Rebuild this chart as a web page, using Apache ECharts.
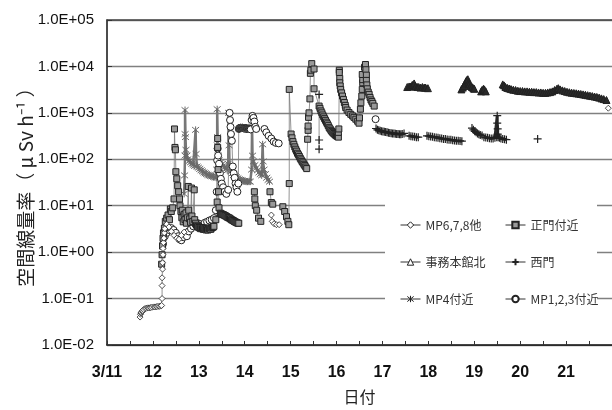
<!DOCTYPE html>
<html>
<head>
<meta charset="utf-8">
<script src="https://cdn.jsdelivr.net/npm/echarts@6/dist/echarts.min.js"></script>
<style>
  html, body { margin: 0; padding: 0; background: #fff; }
  #chart { width: 612px; height: 410px; }
</style>
</head>
<body>
<div id="chart"></div>
<script>
// x = day of March (fractional), y = uSv/h
const xTickLabels = ['3/11', '12', '13', '14', '15', '16', '17', '18', '19', '20', '21']
const yTickLabels = ['1.0E-02', '1.0E-01', '1.0E+00', '1.0E+01', '1.0E+02', '1.0E+03', '1.0E+04', '1.0E+05']
const seriesNames = ['MP6,7,8他', '正門付近', '事務本館北', '西門', 'MP4付近', 'MP1,2,3付近']

const mp678 = [
  [11.72, 0.040], [11.73, 0.046], [11.74, 0.049], [11.75, 0.051], [11.77, 0.053], [11.78, 0.055], [11.80, 0.058],
  [11.83, 0.061], [11.86, 0.062], [11.89, 0.063], [11.92, 0.063], [11.95, 0.064], [11.98, 0.065],
  [12.02, 0.066], [12.05, 0.066], [12.08, 0.067], [12.11, 0.068], [12.14, 0.068], [12.17, 0.069], [12.19, 0.071],
  [12.20, 0.10], [12.20, 0.19], [12.20, 0.28],
  [12.21, 0.43], [12.21, 0.59], [12.22, 0.88], [12.22, 1.2], [12.23, 1.6], [12.24, 2.0], [12.25, 2.6], [12.26, 3.2],
  [12.30, 4.0], [12.35, 3.5], [12.40, 2.8], [12.46, 2.3], [12.52, 2.0], [12.57, 1.9], [12.62, 2.3], [12.68, 2.7],
  '-', [14.58, 6.3], [14.60, 4.6], [14.64, 4.1], [14.69, 3.9], [14.75, 3.9],
  '-', [21.92, 1260]
]

const seimon = [
  [12.19, 0.55], [12.20, 0.88], [12.21, 1.35], [12.22, 2.0], [12.23, 2.6], [12.25, 3.3], [12.27, 4.6], [12.30, 5.4],
  [12.33, 6.3], [12.36, 5.0], [12.38, 8.5], [12.40, 7.5], [12.43, 9.0], [12.46, 14], [12.47, 450], [12.48, 180],
  [12.49, 160], [12.50, 54], [12.52, 38], [12.54, 27], [12.56, 20], [12.58, 14], [12.59, 10], [12.61, 7.5],
  [12.63, 5.5], [12.64, 8.0], [12.66, 4.5], [12.68, 6.5], [12.70, 5.0], [12.72, 7.0], [12.73, 4.2], [12.75, 5.5],
  [12.77, 26], [12.78, 8], [12.80, 5.2], [12.82, 4.4], [12.84, 24], [12.85, 6], [12.87, 4.6], [12.90, 22], [12.91, 5],
  [12.93, 4.2], [12.95, 3.8], [12.97, 3.6], [12.98, 3.5], [13.00, 3.4], [13.02, 3.3], [13.04, 3.2], [13.05, 3.4],
  [13.07, 3.3], [13.08, 3.2], [13.10, 3.1], [13.11, 3.3], [13.13, 3.2], [13.14, 3.1], [13.16, 3.0], [13.17, 3.2],
  [13.19, 3.1], [13.20, 3.0], [13.22, 3.2], [13.23, 3.3], [13.25, 3.2], [13.26, 3.1], [13.28, 3.3], [13.30, 3.4],
  [13.32, 3.5], [13.33, 3.6], [13.37, 5], [13.40, 12], [13.41, 280],
  [13.41, 180], [13.42, 60], [13.43, 20], [13.44, 9], [13.47, 6.9], [13.49, 6.7], [13.51, 6.5], [13.53, 6.4],
  [13.55, 6.3], [13.57, 6.1], [13.59, 6.0], [13.61, 5.8], [13.63, 5.6], [13.65, 5.5], [13.67, 5.4], [13.69, 5.2],
  [13.71, 5.0], [13.73, 4.9], [13.75, 4.8], [13.77, 4.6], [13.79, 4.5], [13.81, 4.4], [13.83, 4.3], [13.85, 4.2],
  [13.87, 4.2],
  '-', [14.21, 20], [14.22, 14], [14.23, 10], [14.26, 8], [14.30, 5.4], [14.35, 4.6],
  '-', [14.55, 20], [14.58, 11.7], [14.61, 10.8],
  '-', [14.83, 9.5], [14.87, 7.5], [14.91, 5.8], [14.94, 4.6], [14.96, 3.9], [14.97, 30], [14.97, 3200],
  [15.01, 350], [15.03, 290], [15.05, 240], [15.07, 210], [15.09, 185], [15.11, 165], [15.13, 150], [15.15, 135],
  [15.17, 125], [15.19, 115], [15.21, 105], [15.23, 97], [15.25, 90], [15.27, 84], [15.29, 78], [15.31, 73],
  [15.33, 68], [15.35, 63], [15.37, 270], [15.38, 420], [15.38, 520], [15.39, 800], [15.40, 1000], [15.42, 2000],
  [15.43, 7100], [15.44, 8300], [15.46, 11500], [15.51, 8800], [15.51, 3300],
  [15.62, 1400], [15.64, 1250], [15.66, 1100], [15.68, 1000], [15.70, 900], [15.72, 820], [15.74, 750], [15.76, 690],
  [15.78, 630], [15.80, 580], [15.82, 530], [15.84, 480], [15.86, 450], [15.88, 420], [15.90, 395], [15.92, 375],
  [15.94, 360], [15.96, 345], [15.98, 330], [16.00, 320], [16.02, 310], [16.04, 300], [16.04, 380], [16.05, 450],
  [16.06, 8300], [16.06, 7400], [16.07, 5500], [16.07, 4450], [16.08, 3800], [16.09, 3200], [16.11, 2700],
  [16.13, 2300], [16.15, 1950], [16.17, 1670], [16.19, 1450], [16.20, 1300], [16.23, 1150], [16.27, 1020],
  [16.31, 930], [16.35, 860], [16.38, 800], [16.42, 730], [16.46, 660], [16.49, 600],
  [16.50, 780], [16.52, 1200], [16.53, 1650], [16.55, 2300], [16.56, 3200], [16.57, 4450], [16.57, 5200],
  [16.56, 6700], [16.61, 9600], [16.63, 11000], [16.64, 8500], [16.65, 6500], [16.65, 5000], [16.66, 4000],
  [16.67, 3300], [16.69, 2800], [16.71, 2500], [16.73, 2150], [16.75, 1900], [16.77, 1750], [16.79, 1600], [16.82, 1400]
]

const jimuKita = [
  [17.54, 3600], [17.58, 3700], [17.61, 3700], [17.65, 4000], [17.69, 4300], [17.72, 3700], [17.76, 3600],
  [17.79, 3600], [17.83, 3500], [17.87, 3600], [17.91, 3500], [17.94, 3500], [17.99, 3400],
  '-', [18.72, 3200], [18.75, 3500], [18.77, 3800], [18.80, 4300], [18.82, 4800], [18.84, 5100], [18.86, 5300],
  [18.88, 4600], [18.89, 4100], [18.92, 3800], [18.95, 3600], [18.98, 3400], [19.00, 3300],
  '-', [19.15, 2900], [19.17, 3100], [19.20, 3300], [19.22, 3200], [19.25, 2900],
  '-', [19.62, 4100], [19.65, 3900], [19.68, 3600], [19.72, 3450], [19.76, 3350], [19.80, 3250], [19.85, 3150],
  [19.90, 3100], [19.95, 3000], [20.00, 2950], [20.05, 2950], [20.10, 2900], [20.15, 2900], [20.20, 2850],
  [20.25, 2850], [20.30, 2800], [20.35, 2800], [20.40, 2750], [20.45, 2750], [20.50, 2700], [20.55, 2700],
  [20.60, 2750], [20.65, 2800], [20.70, 2900], [20.75, 3100], [20.80, 3300], [20.83, 3400], [20.87, 3200],
  [20.92, 3050], [20.97, 2950], [21.02, 2850], [21.07, 2780], [21.12, 2720], [21.17, 2680], [21.22, 2640],
  [21.27, 2600], [21.32, 2550], [21.37, 2500], [21.42, 2450], [21.47, 2400], [21.52, 2350], [21.57, 2300],
  [21.62, 2250], [21.67, 2200], [21.72, 2130], [21.77, 2050], [21.82, 1980], [21.88, 1890]
]

const nishimonSpike = [[15.62, 2500], [15.62, 260], [15.62, 165]]

const nishimonBands = [
  [16.86, 460], [16.89, 430], [16.92, 420], [16.95, 410], [16.98, 400], [17.01, 395], [17.04, 390],
  [17.07, 385], [17.10, 380], [17.13, 375], [17.16, 370], [17.19, 365], [17.22, 360], [17.25, 360], [17.28, 355],
  [17.31, 350], [17.34, 350], [17.37, 345], [17.40, 345], [17.43, 350], [17.47, 360],
  '-', [17.58, 320], [17.62, 315], [17.66, 310], [17.70, 305], [17.74, 300], [17.78, 300],
  '-', [17.97, 320], [18.01, 315], [18.05, 310], [18.09, 305], [18.13, 300], [18.17, 295], [18.21, 290],
  [18.25, 285], [18.29, 280], [18.33, 275], [18.37, 272], [18.41, 268], [18.45, 265], [18.49, 262], [18.53, 258],
  [18.57, 255], [18.61, 252], [18.65, 250], [18.69, 248], [18.73, 245],
  '-', [18.95, 470], [18.98, 430], [19.01, 400], [19.04, 380], [19.07, 360], [19.10, 345], [19.13, 335], [19.17, 325],
  '-', [19.21, 300], [19.25, 295], [19.29, 290], [19.33, 285], [19.37, 280], [19.41, 280], [19.45, 290],
  [19.49, 300], [19.50, 870], [19.50, 600], [19.51, 450], [19.51, 350], [19.52, 300], [19.55, 290], [19.58, 280],
  [19.62, 275], [19.66, 270], [19.70, 265],
  '-', [20.38, 275]
]

const mp4 = [
  [12.68, 18], [12.69, 45], [12.70, 120], [12.70, 350], [12.70, 1150], [12.71, 300], [12.72, 160], [12.74, 120],
  [12.76, 100], [12.79, 92], [12.82, 86], [12.85, 80], [12.88, 76], [12.91, 72], [12.93, 430], [12.94, 130],
  [12.96, 70], [12.99, 66], [13.02, 62], [13.05, 58], [13.08, 55], [13.11, 52], [13.14, 50], [13.17, 48],
  [13.20, 46], [13.23, 45], [13.26, 44], [13.29, 43], [13.32, 42], [13.35, 41], [13.38, 40],
  [13.39, 60], [13.40, 200], [13.40, 1200], [13.41, 300], [13.42, 120], [13.44, 95], [13.47, 85], [13.50, 78],
  [13.53, 72], [13.56, 67], [13.59, 62], [13.62, 58], [13.64, 80], [13.65, 1000], [13.66, 200], [13.67, 70],
  [13.70, 55], [13.73, 50], [13.76, 46], [13.79, 43], [13.82, 41], [13.85, 39], [13.88, 37], [13.91, 36],
  [13.94, 35], [13.97, 34], [14.00, 34], [14.03, 33], [14.06, 33], [14.09, 33], [14.12, 33],
  [14.15, 60], [14.16, 500], [14.17, 120], [14.19, 90], [14.22, 75], [14.25, 65], [14.28, 58], [14.31, 52],
  [14.34, 48], [14.37, 45], [14.39, 210], [14.40, 90], [14.42, 60], [14.45, 48], [14.48, 40], [14.51, 36], [14.54, 33]
]

const mp123 = [
  [12.22, 1.5], [12.26, 2.2], [12.30, 2.6], [12.35, 3.0], [12.40, 3.3], [12.45, 3.0], [12.50, 2.6], [12.55, 2.2],
  [12.58, 1.9], [12.62, 1.8], [12.66, 2.1], [12.70, 2.5], [12.74, 2.2], [12.78, 2.8], [12.83, 3.2], [12.88, 3.6],
  [12.93, 3.9], [12.98, 4.2], [13.03, 4.0], [13.08, 3.8], [13.13, 4.3], [13.18, 4.5], [13.23, 4.8], [13.28, 5.0],
  [13.33, 5.4], [13.37, 8], [13.39, 20], [13.40, 95], [13.41, 170], [13.42, 120], [13.44, 80], [13.46, 50],
  [13.48, 38], [13.50, 30], [13.53, 25], [13.56, 20], [13.60, 18], [13.64, 22], [13.67, 1000], [13.68, 700],
  [13.69, 500], [13.70, 350], [13.72, 250], [13.74, 70], [13.76, 50], [13.78, 40], [13.80, 30], [13.82, 25],
  [13.84, 20], [13.86, 30], [13.87, 450], [13.88, 460], [13.89, 470], [13.90, 475], [13.91, 480], [13.92, 475],
  [13.93, 470], [13.94, 475], [13.95, 480], [13.96, 475], [13.97, 470], [13.98, 465], [13.99, 460], [14.00, 465],
  [14.01, 470], [14.02, 465], [14.03, 460], [14.04, 455], [14.05, 450], [14.06, 455], [14.07, 460], [14.08, 455],
  [14.09, 450], [14.10, 450], [14.11, 450], [14.12, 445], [14.13, 440],
  [14.15, 700], [14.17, 860], [14.19, 780], [14.21, 650], [14.23, 500], [14.25, 450],
  '-', [14.43, 450], [14.47, 380], [14.52, 320], [14.58, 280], [14.63, 240], [14.68, 225], [14.74, 220],
  '-', [16.85, 730]
]

const plusPath = 'path://M0,5L10,5M5,0L5,10'
const starPath = 'path://M1,1L9,9M9,1L1,9M5,0L5,10'

function mk(name, data, symbol, size, fill, stroke, bw, line) {
  return {
    name, type: 'line', data, symbol, symbolSize: size, showSymbol: true, showAllSymbol: true,
    connectNulls: false, animation: false,
    lineStyle: line || { color: '#7a7a7a', width: 0.8 },
    itemStyle: { color: fill, borderColor: stroke, borderWidth: bw },
    emphasis: { disabled: true }
  }
}

const legendCommon = {
  orient: 'vertical', itemWidth: 20, itemHeight: 8, itemGap: 25, z: 10,
  textStyle: { fontSize: 12, color: '#333', fontFamily: 'Noto Sans CJK JP' },
  lineStyle: { color: '#333', width: 1 }
}

const chart = echarts.init(document.getElementById('chart'))
chart.setOption({
  animation: false,
  backgroundColor: '#fff',
  textStyle: { fontFamily: 'Liberation Sans' },
  grid: { left: 107, top: 20, width: 507, height: 328 },
  xAxis: [{
    type: 'value', min: 11, max: 22, interval: 0.5,
    name: '日付', nameLocation: 'middle', nameGap: 44, nameMoveOverlap: false,
    nameTextStyle: { fontSize: 16, color: '#222', fontFamily: 'Noto Sans CJK JP' },
    axisLine: { lineStyle: { color: '#111', width: 1.5 } },
    axisTick: { inside: true, length: 4, lineStyle: { color: '#333' } },
    axisLabel: {
      margin: 20, fontSize: 16, fontWeight: 'bold', color: '#111', showMaxLabel: false,
      formatter: v => Number.isInteger(v) ? (xTickLabels[v - 11] || '') : ''
    },
    splitLine: { show: false }
  }, {
    type: 'value', min: 11, max: 22, position: 'top',
    axisLine: { show: true, lineStyle: { color: '#444', width: 1.5 } },
    axisTick: { show: false }, axisLabel: { show: false }, splitLine: { show: false }
  }],
  yAxis: {
    type: 'log', logBase: 10, min: 0.01, max: 100000, splitNumber: 7,
    name: '空間線量率（ μ Sv h⁻¹ ）', nameLocation: 'middle', nameGap: 72, nameRotate: 90, nameMoveOverlap: false,
    nameTextStyle: { fontSize: 19, color: '#222', fontFamily: 'Noto Sans CJK JP' },
    axisLine: { show: true, lineStyle: { color: '#111', width: 1.5 } },
    axisTick: { show: true, inside: true, length: 5, lineStyle: { color: '#333' } },
    axisLabel: {
      margin: 13, fontSize: 15, color: '#111',
      formatter: v => yTickLabels[Math.round(Math.log10(v)) + 2] || ''
    },
    splitLine: { show: true, lineStyle: { color: '#808080', width: 1.3 } }
  },
  legend: [
    Object.assign({
      data: [seriesNames[0], seriesNames[2], seriesNames[4]], left: 395, top: 214,
      itemStyle: { color: '#fff', borderColor: '#222', borderWidth: 1 }
    }, legendCommon),
    Object.assign({ data: [seriesNames[1], seriesNames[3], seriesNames[5]], left: 500, top: 214 }, legendCommon)
  ],
  graphic: [{
    type: 'rect', shape: { x: 385, y: 197, width: 212, height: 120 },
    style: { fill: '#fff' }, z: 3, silent: true
  }],
  series: [
    mk(seriesNames[4], mp4, starPath, 7, 'none', '#6a6a6a', 1, { color: '#777', width: 2.5 }),
    mk(seriesNames[5], mp123, 'circle', 7, '#fff', '#222', 1),
    mk(seriesNames[1], seimon, 'rect', 6, '#999', '#222', 1),
    mk(seriesNames[0], mp678, 'diamond', 6, '#fff', '#222', 0.8),
    mk(seriesNames[2], jimuKita, 'triangle', 7, '#2a2a2a', '#222', 1, { color: '#2a2a2a', width: 4 }),
    mk(seriesNames[3], nishimonSpike, plusPath, 8, 'none', '#222', 1.2),
    mk(seriesNames[3], nishimonBands, plusPath, 8, 'none', '#222', 1.2, { color: '#2a2a2a', width: 3 })
  ]
})
</script>
</body>
</html>
